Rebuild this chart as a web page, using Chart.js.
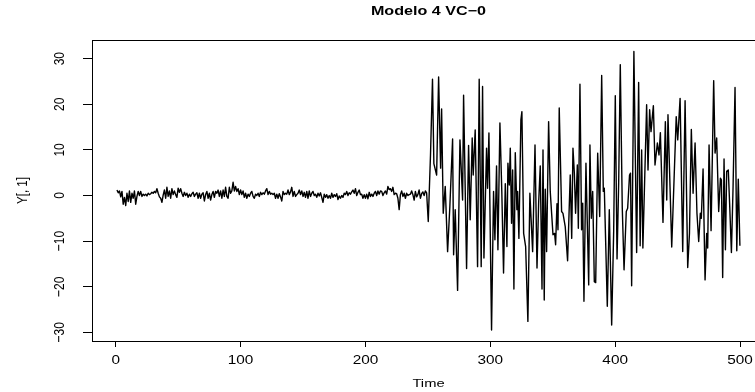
<!DOCTYPE html>
<html>
<head>
<meta charset="utf-8">
<script src="https://cdn.jsdelivr.net/npm/chart.js@4.4.1/dist/chart.umd.min.js"></script>
<style>
  html, body { margin: 0; padding: 0; background: #fff; overflow: hidden; }
  #wrap { width: 755px; height: 392px; overflow: hidden; }
</style>
</head>
<body>
<div id="wrap"><canvas id="chart" width="772" height="392"></canvas></div>
<script>
const chartTitle = "Modelo 4 VC\u22120";
const xTitle = "Time";
const yTitle = "Y[, 1]";
const xTicks = [0, 100, 200, 300, 400, 500];
const yTicks = [-30, -20, -10, 0, 10, 20, 30];

// t = 1..249, the calm part
const calmValues = [
  1.2, 0.6, 1.0, -0.3, 0.9, -1.9, -0.4, -2.2, 0.5, -1.3, 1.0, -1.5, 0.5, -0.6, 1.0, -1.9, -0.2, 0.9, 0.0, 0.9,
  -0.2, 0.3, 0.0, 0.3, -0.1, 0.5, 0.2, 0.4, 0.7, 0.5, 0.9, 0.6, 1.5, 0.5, -0.3, -0.6, -1.5, 0.1, 1.2, -0.6,
  1.8, -0.2, 1.0, -0.6, 1.5, 0.2, 1.0, 0.2, -0.4, 1.6, 0.7, 1.5, 0.5, -0.2, 0.7, 0.0, 0.5, -0.4, 0.3, -0.2,
  0.4, 0.7, -0.2, 0.3, 0.6, -0.6, 0.5, -0.6, 0.3, 0.6, -1.2, 0.2, 0.9, -0.6, 0.5, -1.0, 0.2, 0.9, -0.4, 0.9,
  0.5, 1.2, -0.2, 1.0, -0.6, 1.2, -0.2, 1.8, -0.2, -0.6, 1.8, 0.5, 1.0, 2.9, 1.0, 2.0, 0.9, 1.5, 0.2, 1.2,
  0.2, 1.0, -0.4, 0.5, -0.6, 0.3, -0.2, 0.5, 0.9, -0.2, -0.6, 0.3, 0.0, 0.5, -0.2, 0.7, 0.2, 0.6, 0.3, 1.0,
  1.5, 0.2, 0.9, 0.3, 0.5, 0.2, 0.5, -0.6, 0.3, -0.6, 0.4, -0.3, -1.2, 0.9, 0.2, 0.5, 0.3, 1.2, 0.2, 0.8,
  1.8, -0.2, 0.9, -0.2, 0.2, 0.5, 1.2, 0.2, 1.0, -0.2, 0.7, -0.4, 0.9, -0.6, 1.0, -0.2, 0.5, 0.9, 0.0, 0.3,
  -0.4, 0.5, -0.1, 0.6, -0.4, -1.5, 0.3, -0.4, 0.2, -0.6, 0.0, -0.6, 0.5, -0.4, 0.2, -0.2, 0.4, -0.9, -0.1, -0.6,
  0.0, -0.4, 0.5, 0.2, 0.9, 0.0, 0.6, 0.3, 0.8, 1.2, 0.5, 1.5, 0.0, 0.7, 1.2, 0.2, 0.3, -0.6, 0.2, -0.6,
  0.3, -0.7, 0.7, -0.2, 0.3, -0.2, 0.5, 0.9, 0.0, 1.0, 0.3, 1.0,
  0.9, 0.0, 0.6, 1.0, 0.3, 2.0, 1.3, 1.5, 0.9, 1.8, 0.2, 0.5, 0.4, -0.6, -3.1, 0.2, 1.0, -0.2, 0.5, -0.6,
  0.5, 0.0, 0.2, 0.3, 1.0, 0.2, -1.0, 0.9, -0.3, 0.2, 1.2, -0.6, 0.4, 0.8, 0.0, 1.0, 0.6
];

// after the switch: vertices
const wildTimes = [
  250.3, 252.1, 253.7, 254.8, 257.0, 258.6, 260.2, 261.0, 262.3, 263.9, 265.8, 267.6, 269.8, 270.6, 271.9,
  273.8, 275.7, 277.8, 278.6, 281.0, 282.6, 283.9, 285.5, 286.3, 287.9, 289.8, 291.1, 292.7, 293.8, 294.9,
  297.0, 297.8, 298.9, 301.0, 302.6, 303.7, 305.0, 306.1, 307.7, 309.2, 310.6, 312.0, 313.3, 314.1, 315.2,
  316.0, 317.0, 317.9, 318.9, 320.0, 321.3, 321.9, 322.9, 324.5, 325.3, 326.7, 328.3, 330.1, 331.7, 333.9,
  335.8, 337.4, 338.7, 340.0, 341.4, 342.2, 343.2, 344.0, 345.1, 346.7, 348.0, 350.2, 351.5, 352.3, 353.4,
  354.2, 355.2, 357.1, 358.2, 360.0, 361.9, 364.0, 365.2, 366.2, 367.3, 368.3, 369.7, 370.5, 371.8, 373.1,
  374.0, 375.0, 376.6, 378.8, 379.8, 380.9, 382.0, 383.3, 384.4, 386.0, 387.6, 389.2, 390.5, 391.3, 393.7,
  395.3, 397.2, 398.8, 400.1, 401.5, 402.8, 404.1, 405.7, 407.1, 408.9, 410.0, 411.5, 412.3, 413.2, 415.0,
  417.2, 418.8, 420.0, 421.2, 422.2, 425.2, 426.3, 427.6, 428.7, 430.6, 431.9, 433.8, 435.1, 436.2, 438.3,
  440.2, 441.3, 442.3, 445.3, 448.9, 450.1, 452.0, 454.1, 456.0, 458.1, 459.5, 461.0, 462.4, 464.0, 465.5,
  466.9, 468.2, 469.0, 470.4, 472.0, 473.3, 474.1, 475.2, 476.8, 478.9, 480.0, 481.3, 482.9, 484.3, 485.1,
  486.1, 487.2, 488.3, 489.3, 490.6, 491.7, 493.1, 494.4, 496.0, 497.4, 498.6, 499.9
];
const wildValues = [
  -5.7, 8.9, 25.5, 7.0, 4.5, 26.0, 6.0, 19.0, -3.9, 2.0, -12.3, -2.4, 12.4, -13.0, -3.1,
  -20.8, 12.2, -1.0, 22.0, -16.0, 11.0, -5.3, 12.6, 4.5, 14.4, -15.6, 25.5, -15.6, 23.9, -13.7,
  10.4, 1.6, 13.7, -29.5, 0.9, -9.7, 6.5, -11.9, 15.9, 1.0, -17.0, 2.6, -11.2, 7.1, 2.3,
  10.4, -6.1, 5.6, -20.5, 9.4, -3.1, 0.9, -9.4, 16.6, 18.4, -8.3, -11.2, -27.6, 0.5, -12.3,
  11.1, -15.9, -1.7, 6.5, -20.5, 10.0, -22.9, 1.4, -12.3, 16.2, 0.9, -8.6, -8.3, -10.8, -1.8,
  -7.5, 19.2, -3.5, -3.9, -6.8, -14.3, 4.5, -9.4, 10.4, 4.9, -3.9, 6.7, -7.2, 24.4, -7.5,
  -1.7, -23.2, 7.1, -19.6, 11.1, -5.0, 0.9, -18.9, -19.1, 9.3, -4.6, 26.3, 0.9, 1.6, -24.3,
  -3.1, -28.4, -7.9, 21.9, -13.9, 2.7, 28.7, -2.8, -16.3, -3.5, -2.8, 4.5, 4.9, -19.8, 31.6,
  -12.5, 24.8, -11.0, 10.0, -11.5, 19.9, 5.6, 18.8, 14.0, 19.7, 6.7, 11.5, 8.9, 13.8, -5.9,
  16.2, -1.0, 17.7, -11.3, 17.3, 12.2, 21.3, -12.3, 20.8, -15.8, -8.3, 14.5, 0.5, 11.5, -3.9,
  -10.1, -3.9, -5.0, 5.8, -18.5, -8.3, -11.5, 11.1, -7.7, 25.2, 9.3, 12.6, -3.5, 3.8, 3.4,
  -18.0, 8.0, -11.9, 5.3, 5.6, -2.0, -12.5, 1.6, 23.7, -12.1, 3.6, -11.0
];

const points = calmValues.map((v, i) => ({ x: i + 1, y: v }))
  .concat(wildTimes.map((t, i) => ({ x: t, y: wildValues[i] })));

// the source picture is stretched sideways, so the text is too
const SX = 1.28;
const FONT = '"Liberation Sans", Arial, Helvetica, sans-serif';

function wideText(ctx, text, x, y, font, rotated) {
  ctx.save();
  ctx.translate(x, y);
  ctx.scale(SX, 1);
  if (rotated) ctx.rotate(-Math.PI / 2);
  ctx.font = font;
  ctx.fillStyle = "#000";
  ctx.textAlign = "center";
  ctx.textBaseline = "middle";
  ctx.fillText(text, 0, 0);
  ctx.restore();
}

const rFrame = {
  id: "rFrame",
  afterDraw(chart) {
    const { ctx, chartArea: a, scales } = chart;
    ctx.save();
    ctx.strokeStyle = "#000";
    ctx.lineWidth = 1;
    ctx.strokeRect(Math.round(a.left) + 0.5, Math.round(a.top) + 0.5, Math.round(a.right - a.left), Math.round(a.bottom - a.top));
    ctx.restore();
    xTicks.forEach(v => {
      wideText(ctx, String(v), scales.x.getPixelForValue(v), 361, "12px " + FONT, false);
    });
    yTicks.forEach(v => {
      const s = v < 0 ? "\u2212" + Math.abs(v) : String(v);
      wideText(ctx, s, 60, scales.y.getPixelForValue(v), "12px " + FONT, true);
    });
    wideText(ctx, chartTitle, (a.left + a.right) / 2, 12, "bold 12.6px " + FONT, false);
    wideText(ctx, xTitle, (a.left + a.right) / 2, 384, "11.5px " + FONT, false);
    wideText(ctx, yTitle, 23, (a.top + a.bottom) / 2, "11.5px " + FONT, true);
  }
};

new Chart(document.getElementById("chart"), {
  type: "line",
  data: {
    datasets: [{
      data: points,
      borderColor: "#000",
      borderWidth: 1.4,
      borderJoinStyle: "round",
      pointRadius: 0,
      tension: 0,
      fill: false
    }]
  },
  options: {
    responsive: false,
    animation: false,
    layout: { padding: { top: 40, right: 7, left: 0, bottom: 0 } },
    plugins: { legend: { display: false }, tooltip: { enabled: false }, title: { display: false } },
    scales: {
      x: {
        type: "linear",
        min: -19,
        max: 520,
        afterBuildTicks: s => { s.ticks = xTicks.map(v => ({ value: v })); },
        afterFit: s => { s.height = 51; },
        grid: { drawOnChartArea: false, drawTicks: true, tickLength: 6, color: "#000" },
        border: { display: false },
        ticks: { display: false }
      },
      y: {
        type: "linear",
        min: -31.9,
        max: 34.1,
        afterBuildTicks: s => { s.ticks = yTicks.map(v => ({ value: v })); },
        afterFit: s => { s.width = 92; },
        grid: { drawOnChartArea: false, drawTicks: true, tickLength: 9, color: "#000" },
        border: { display: false },
        ticks: { display: false }
      }
    }
  },
  plugins: [rFrame]
});
</script>
</body>
</html>
